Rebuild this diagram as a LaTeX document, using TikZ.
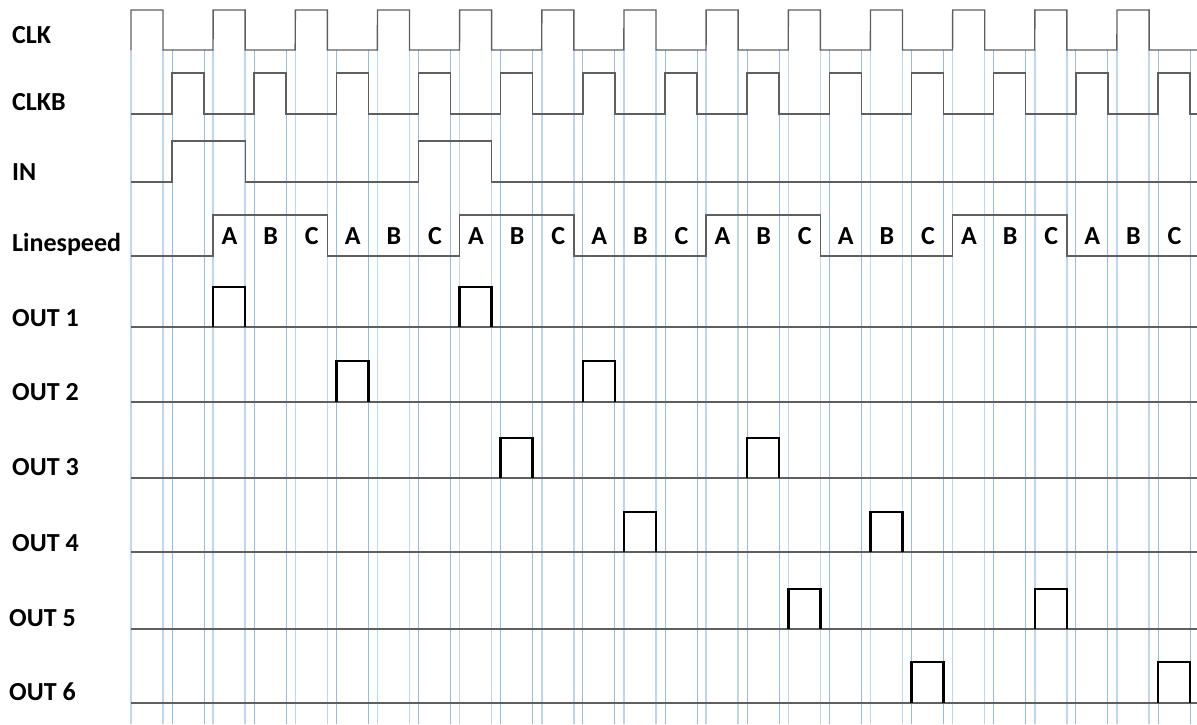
\documentclass[tikz,border=0pt]{standalone}
\usepackage{fontspec}
\setmainfont{Carlito}
\definecolor{gridlight}{RGB}{189,215,238}
\definecolor{griddark}{RGB}{150,190,228}
\definecolor{wavegray}{RGB}{95,95,95}
\newcommand\clkper{82.17}
\begin{document}
\begin{tikzpicture}[x=1pt,y=-1pt,
  grida/.style={gridlight,line width=1.4pt},
  gridb/.style={griddark,line width=0.8pt},
  wave/.style={wavegray,line width=1.4pt},
  pulse/.style={black,line width=2.4pt,line join=miter},
  lbl/.style={anchor=base west,inner sep=0pt,font=\fontsize{26}{30}\selectfont\bfseries},
  slot/.style={anchor=base,inner sep=0pt,font=\fontsize{26}{30}\selectfont\bfseries}]
\useasboundingbox (0,0) rectangle (1197,724);
\foreach \k in {0,...,12}{
  \draw[grida](131+\k*\clkper,50)--(131+\k*\clkper,724);
  \draw[grida](163+\k*\clkper,50)--(163+\k*\clkper,724);
  \draw[gridb](172+\k*\clkper,50)--(172+\k*\clkper,724);
  \draw[gridb](204+\k*\clkper,50)--(204+\k*\clkper,724);
}

\node[lbl](clk) at (12,43){CLK};
\node[lbl](clkb) at (12,110){CLKB};
\node[lbl](in) at (12,180){IN};
\node[lbl](ls) at (12,251){Linespeed};
\node[lbl](out1) at (12,326){OUT 1};
\node[lbl](out2) at (12,400){OUT 2};
\node[lbl](out3) at (12,475){OUT 3};
\node[lbl](out4) at (12,551){OUT 4};
\node[lbl](out5) at (9,626){OUT 5};
\node[lbl](out6) at (9,700){OUT 6};

\draw[wave](131,50)\foreach \k in {0,...,12}{--(131+\k*\clkper,10)--(163+\k*\clkper,10)--(163+\k*\clkper,50)--(213+\k*\clkper,50)};
\draw[wave](131,114)\foreach \k in {0,...,12}{--(172+\k*\clkper,114)--(172+\k*\clkper,73)--(204+\k*\clkper,73)--(204+\k*\clkper,114)}--(1197,114);
\draw[wave](131,182)--(172,182)--(172,141)--(245.2,141)--(245.2,182)--(418.5,182)--(418.5,141)--(491.7,141)--(491.7,182)--(1197,182);
\draw[wave](131,256)\foreach \m in {1,4,7,10}{--(131+\m*\clkper,256)--(131+\m*\clkper,215)--(163+\m*\clkper+\clkper,215)--(163+\m*\clkper+\clkper,256)}--(1197,256);
\foreach \g in {0,...,7}
  \foreach \l [count=\j from 0] in {A,B,C}
    \node[slot] at (229.5+3*\g*41.085+\j*41.085,244){\l};

\foreach \lo/\hi/\off/\a/\b in {327/287/131/1/4,402/361/172/2/5,478/438/172/4/7,552/512/131/6/9,629/589/131/8/11,703/662/172/9/12}{
  \draw[wave](131,\lo)--(1197,\lo);
  \foreach \k in {\a,\b}
    \draw[pulse](\off+\k*\clkper,\lo)--++(0,\hi-\lo)--++(32,0)--++(0,\lo-\hi);
}
\end{tikzpicture}
\end{document}
